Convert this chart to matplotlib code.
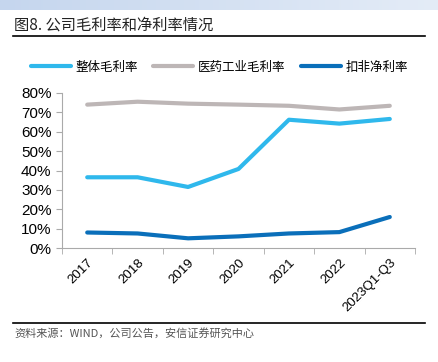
import matplotlib
matplotlib.use("Agg")
import matplotlib.pyplot as plt
import numpy as np
from matplotlib.ticker import PercentFormatter
from matplotlib.colors import LinearSegmentedColormap

plt.rcParams['font.family'] = ['Liberation Sans', 'Noto Sans CJK SC']

categories = ["2017", "2018", "2019", "2020", "2021", "2022", "2023Q1-Q3"]
gross_margin = [36.5, 36.5, 31.5, 40.8, 66.2, 64.2, 66.6]
industry_margin = [74.0, 75.5, 74.5, 74.0, 73.4, 71.5, 73.4]
net_margin = [8.0, 7.5, 5.0, 6.0, 7.5, 8.2, 16.0]
series_names = ["整体毛利率", "医药工业毛利率", "扣非净利率"]
yticks = [0, 10, 20, 30, 40, 50, 60, 70, 80]

fig = plt.figure(figsize=(4.39, 3.62), dpi=100)

# top gradient band
band = fig.add_axes([0, 1 - 10/362, 1, 10/362])
grad = np.linspace(0, 1, 256).reshape(1, -1)
cmap = LinearSegmentedColormap.from_list("b", ["#c5d6ee", "#e4ecf7"])
band.imshow(grad, aspect='auto', cmap=cmap)
band.axis('off')

fig.text(14/439, 1 - 25/362, "图8. 公司毛利率和净利率情况", fontsize=11, fontweight='medium',
         color='#222222', va='center', ha='left', family=['Noto Sans CJK SC'])
fig.add_artist(plt.Line2D([13/439, 425/439], [1 - 36/362, 1 - 36/362], color='black', lw=1.2))
fig.add_artist(plt.Line2D([13/439, 425/439], [1 - 323/362, 1 - 323/362], color='black', lw=1.2))
fig.text(14/439, 1 - 333/362, "资料来源：WIND，公司公告，安信证券研究中心", fontsize=8, style='italic',
         color='#555555', va='center', ha='left', family=['Noto Sans CJK SC', 'Liberation Sans'])

ax = fig.add_axes([62/439, 1 - 248/362, (415-62)/439, (248-93)/362])
x = np.arange(len(categories))
c1, c2, c3 = "#2fb8ec", "#bdb6b6", "#0a6fba"
ax.plot(x, gross_margin, color=c1, lw=3, label=series_names[0], solid_capstyle='round')
ax.plot(x, industry_margin, color=c2, lw=3, label=series_names[1], solid_capstyle='round')
ax.plot(x, net_margin, color=c3, lw=3, label=series_names[2], solid_capstyle='round')

ax.set_ylim(0, 80)
ax.set_yticks(yticks)
ax.yaxis.set_major_formatter(PercentFormatter(decimals=0))
ax.set_xlim(-0.5, len(categories) - 0.5)
ax.set_xticks(x)
ax.set_xticklabels(categories, rotation=45, ha='right', rotation_mode='anchor', fontsize=9.5)
ax.set_xticks(np.arange(-0.5, len(categories)), minor=True)
ax.tick_params(axis='x', which='major', length=0, pad=6)
ax.tick_params(axis='x', which='minor', length=4, color='#aaaaaa')
ax.tick_params(axis='y', length=4, color='#aaaaaa', labelsize=11)
for s in ['top', 'right']:
    ax.spines[s].set_visible(False)
ax.spines['left'].set_color('#aaaaaa')
ax.spines['bottom'].set_color('#aaaaaa')

leg = fig.legend(loc='center', bbox_to_anchor=(0.5, 1 - 67/362), ncol=3, frameon=False,
                 fontsize=9, handlelength=3.2, columnspacing=1.2, handletextpad=0.4,
                 prop={'family': ['Noto Sans CJK SC'], 'size': 9})

fig.savefig("out.png", dpi=100)
